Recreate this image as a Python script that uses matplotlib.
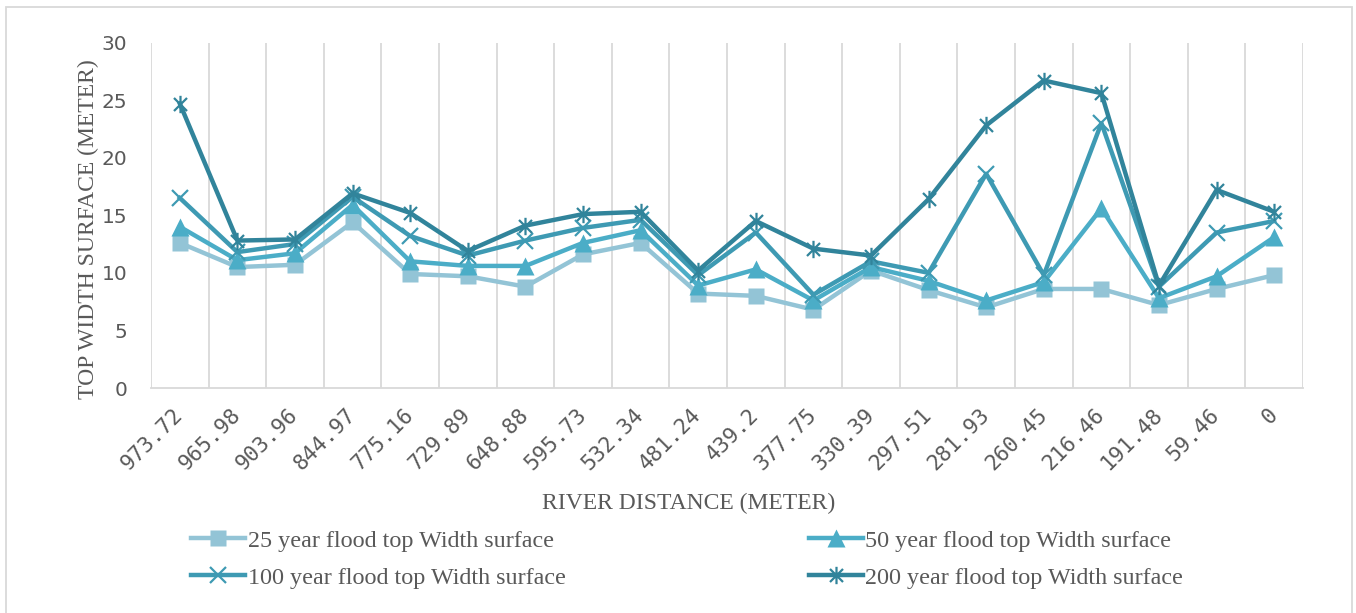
import numpy as np
import matplotlib
matplotlib.use('Agg')
import matplotlib.pyplot as plt
from matplotlib.path import Path
from matplotlib.patches import Rectangle

# river stations (m) and top width of flood surface (m)
dist = ['973.72', '965.98', '903.96', '844.97', '775.16', '729.89', '648.88',
        '595.73', '532.34', '481.24', '439.2', '377.75', '330.39', '297.51',
        '281.93', '260.45', '216.46', '191.48', '59.46', '0']

w25 = [12.6, 10.5, 10.7, 14.4, 9.9, 9.7, 8.8, 11.6, 12.6, 8.2,
       8.0, 6.8, 10.2, 8.5, 7.0, 8.6, 8.6, 7.2, 8.6, 9.8]
w50 = [14.0, 11.1, 11.7, 15.9, 11.0, 10.6, 10.6, 12.6, 13.7, 8.9,
       10.3, 7.6, 10.5, 9.3, 7.6, 9.2, 15.6, 7.8, 9.7, 13.1]
w100 = [16.5, 11.8, 12.5, 16.6, 13.2, 11.5, 12.8, 13.9, 14.6, 9.8,
        13.5, 8.1, 11.0, 10.0, 18.6, 9.8, 23.0, 8.8, 13.5, 14.5]
w200 = [24.7, 12.8, 12.9, 16.9, 15.2, 11.9, 14.1, 15.1, 15.3, 10.2,
        14.5, 12.1, 11.5, 16.4, 22.8, 26.7, 25.6, 8.9, 17.2, 15.3]

labels = ['25 year flood top Width surface', '50 year flood top Width surface',
          '100 year flood top Width surface', '200 year flood top Width surface']
colors = ['#93C4D6', '#4BADC7', '#3E9AB3', '#31849B']

# six-armed star: vertical bar plus two diagonals
star = Path([(0, -1), (0, 1), (-0.75, -0.75), (0.75, 0.75), (-0.75, 0.75), (0.75, -0.75)],
            [Path.MOVETO, Path.LINETO, Path.MOVETO, Path.LINETO, Path.MOVETO, Path.LINETO])

W, H = 1356, 613
fig = plt.figure(figsize=(W / 100, H / 100), dpi=100)
ax = fig.add_axes([151 / W, (H - 388) / H, 1152 / W, 345.5 / H])

x = np.arange(len(dist))
styles = [dict(marker='s', ms=12, mec='none'),
          dict(marker='^', ms=13, mec='none'),
          dict(marker='x', ms=11.5, mew=1.6, mfc='none'),
          dict(marker=star, ms=12.5, mew=1.6, mfc='none')]
handles = []
for i, ys in enumerate([w25, w50, w100, w200]):
    st = dict(styles[i])
    if 'mec' not in st:
        st['mec'] = colors[i]
    h, = ax.plot(x, ys, color=colors[i], lw=3.2, solid_joinstyle='round',
                 label=labels[i], zorder=3 + i, **st)
    handles.append(h)

ax.set_xlim(-0.5, len(dist) - 0.5)
ax.set_ylim(0, 30)
ax.set_yticks(range(0, 31, 5))
ax.set_xticks(x)
ax.set_xticklabels(dist, rotation=45, ha='right', va='center', rotation_mode='anchor',
                   family='DejaVu Sans Mono', fontsize=15.5, color='#595959')
ax.tick_params(axis='x', length=0, pad=17)
ax.tick_params(axis='y', length=0, pad=17, labelsize=14.5, labelcolor='#595959')

for b in np.arange(-0.5, len(dist), 1.0):
    ax.axvline(b, color='#D9D9D9', lw=1.3, zorder=1)
for s in ['top', 'right', 'left']:
    ax.spines[s].set_visible(False)
ax.spines['bottom'].set_color('#D9D9D9')
ax.spines['bottom'].set_linewidth(1.3)

fig.text(689 / W, 1 - 503 / H, 'RIVER DISTANCE (METER)', ha='center', va='center',
         family='Liberation Serif', fontsize=17, color='#595959')
fig.text(88 / W, 1 - 229 / H, 'TOP WIDTH SURFACE (METER)', ha='center', va='center',
         rotation=90, family='Liberation Serif', fontsize=17, color='#595959')

leg = fig.legend([handles[0], handles[2], handles[1], handles[3]],
                 [labels[0], labels[2], labels[1], labels[3]],
                 ncol=2, loc='upper left', bbox_to_anchor=(191 / W, 1 - 530 / H),
                 frameon=False, prop={'family': 'Liberation Serif', 'size': 17.4},
                 handlelength=2.25, handletextpad=0.1, labelspacing=0.62,
                 columnspacing=10.05, borderpad=0, borderaxespad=0)
for t in leg.get_texts():
    t.set_color('#595959')

fig.patches.append(Rectangle((6 / W, -0.05), 1346 / W, 1.05 - 7 / H, transform=fig.transFigure,
                             fill=False, edgecolor='#D9D9D9', lw=1.3))

fig.savefig('out.png', dpi=100)
